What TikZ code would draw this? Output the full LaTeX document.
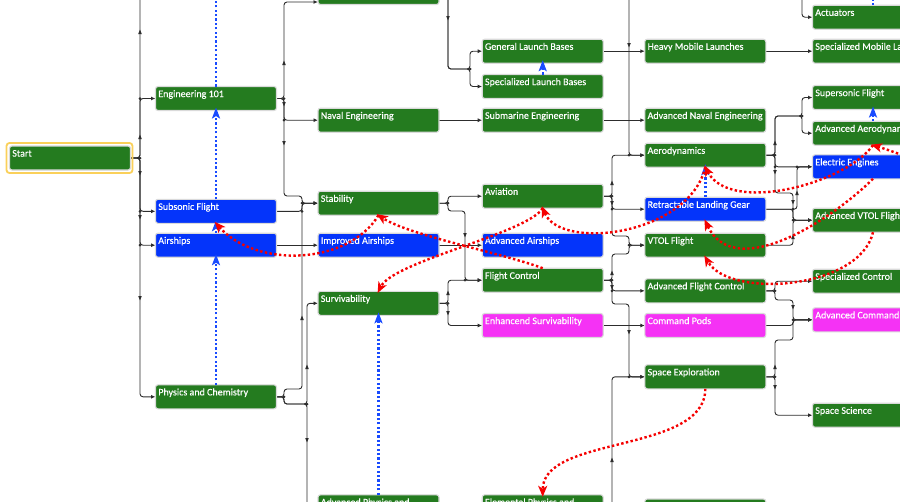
\documentclass[tikz,border=0pt]{standalone}
\usepackage{fontspec}
\setmainfont{Carlito}
\newfontfamily\techfont{Carlito}[FakeBold=0.35]
\usetikzlibrary{arrows.meta}

\definecolor{techgreen}{RGB}{36,123,31}
\definecolor{techblue}{RGB}{4,52,250}
\definecolor{techpink}{RGB}{245,50,245}
\definecolor{boxedge}{RGB}{218,218,218}
\definecolor{wirecol}{RGB}{45,45,45}
\definecolor{linkblue}{RGB}{25,75,255}
\definecolor{linkred}{RGB}{245,0,0}
\definecolor{startring}{RGB}{250,208,90}

\pgfdeclarelayer{paper}
\pgfdeclarelayer{wires}
\pgfsetlayers{paper,wires,main}

% a technology box: style, name, centre x, centre y, caption
\newcommand\techbox[5]{%
  \node[#1] (#2) at (#3,#4) {};
  \node[techcap] (#2-t) at ([xshift=2.6pt,yshift=-10.6pt]#2.north west) {#5};}

\begin{document}
\begin{tikzpicture}[x=1pt,y=-1pt,
  box/.style={rectangle,rounded corners=2.5pt,draw=boxedge,line width=1.1pt,
    minimum width=121pt,minimum height=24pt,inner sep=0pt,outer sep=0pt},
  gbox/.style={box,fill=techgreen},
  bbox/.style={box,fill=techblue},
  mbox/.style={box,fill=techpink},
  techcap/.style={anchor=base west,inner sep=0pt,text=white,
    font=\techfont\fontsize{10pt}{12pt}\selectfont},
  wire/.style={draw=wirecol,line width=0.9pt,rounded corners=3pt,
    -{Latex[length=4.5pt,width=4pt]}},
  bluelink/.style={draw=linkblue,line width=2.4pt,dash pattern=on 2.2pt off 2.2pt,
    shorten >=-3pt,-{Stealth[length=11pt,width=8pt,inset=2.5pt]}},
  redlink/.style={draw=linkred,line width=2.4pt,dash pattern=on 2.4pt off 2.4pt,
    shorten >=-2pt,-{Stealth[length=11pt,width=9pt,inset=3pt]}},
  tipup/.pic={\fill[wirecol] (0pt,2.4pt) -- (-1.8pt,-2pt) -- (1.8pt,-2pt) -- cycle;},
  tipdn/.pic={\fill[wirecol] (0pt,-2.4pt) -- (-1.8pt,2pt) -- (1.8pt,2pt) -- cycle;}
]
\useasboundingbox (0,0) rectangle (900,501);
\begin{pgfonlayer}{paper}
\fill[white] (0,0) rectangle (900,501);
\end{pgfonlayer}
\clip (0,0) rectangle (900,501);

% loose ends of wires and links that leave the sheet
\coordinate (up1) at (140,-30);
\coordinate (up2) at (216,-30);
\coordinate (up5) at (629,-30);
\coordinate (up6) at (802,-30);
\coordinate (up7) at (873,-30);
\coordinate (farright) at (1036,145);

% ---------- boxes ----------
\techbox{gbox}{start}{70}{158}{Start}
\draw[startring,line width=1.8pt,rounded corners=3pt]
  ([shift={(-3pt,3pt)}]start.north west) rectangle ([shift={(2pt,-3pt)}]start.south east);

\techbox{gbox}{eng}{216}{98.5}{Engineering 101}
\techbox{bbox}{sub}{216}{211.3}{Subsonic Flight}
\techbox{bbox}{air}{216}{245.2}{Airships}
\techbox{gbox}{phys}{216}{396.8}{Physics and Chemistry}

\techbox{gbox}{top3}{378.5}{-7.5}{}
\techbox{gbox}{naval}{378.5}{120.2}{Naval Engineering}
\techbox{gbox}{stab}{378.5}{203.2}{Stability}
\techbox{bbox}{imp}{378.5}{245.2}{Improved Airships}
\techbox{gbox}{surv}{378.5}{303.3}{Survivability}
\techbox{gbox}{aphys}{378.5}{506.8}{Advanced Physics and}

\techbox{gbox}{genl}{542.7}{51.2}{General Launch Bases}
\techbox{gbox}{specl}{542.7}{86.5}{Specialized Launch Bases}
\techbox{gbox}{subm}{542.7}{120.2}{Submarine Engineering}
\techbox{gbox}{avi}{542.7}{196.2}{Aviation}
\techbox{bbox}{aair}{542.7}{245.2}{Advanced Airships}
\techbox{gbox}{fctl}{542.7}{280.2}{Flight Control}
\techbox{mbox}{enh}{542.7}{325.5}{Enhancend Survivability}
\techbox{gbox}{ephys}{542.7}{506.8}{Elemental Physics and}

\techbox{gbox}{heavy}{705.3}{51.2}{Heavy Mobile Launches}
\techbox{gbox}{anav}{705.3}{120.2}{Advanced Naval Engineering}
\techbox{gbox}{aero}{705.3}{155.2}{Aerodynamics}
\techbox{bbox}{retr}{705.3}{209.2}{Retractable Landing Gear}
\techbox{gbox}{vtol}{705.3}{245.2}{VTOL Flight}
\techbox{gbox}{afc}{705.3}{290.8}{Advanced Flight Control}
\techbox{mbox}{cmd}{705.3}{325.5}{Command Pods}
\techbox{gbox}{spx}{705.3}{376.8}{Space Exploration}
\techbox{gbox}{bot5}{705.3}{511}{}

\techbox{gbox}{act}{873}{17.2}{Actuators}
\techbox{gbox}{smob}{873}{51.2}{Specialized Mobile La}
\techbox{gbox}{sup}{873}{97.5}{Supersonic Flight}
\techbox{gbox}{aaero}{873}{133.2}{Advanced Aerodynam}
\techbox{bbox}{elec}{873}{166.8}{Electric Engines}
\techbox{gbox}{avtol}{873}{220.2}{Advanced VTOL Fligh}
\techbox{gbox}{sctl}{873}{281.2}{Specialized Control}
\techbox{mbox}{acmd}{873}{319.8}{Advanced Command}
\techbox{gbox}{ssci}{873}{415.2}{Space Science}

% ---------- prerequisite wires ----------
\begin{pgfonlayer}{wires}
\clip (0,0) rectangle (900,501);
\draw[wire] (start.east) -- (140,158) -- (140,98.5) -- (eng.west);
\draw[wire] (start.east) -- (140,158) -- (140,211.3) -- (sub.west);
\draw[wire] (start.east) -- (140,158) -- (140,245.2) -- (air.west);
\draw[wire] (start.east) -- (140,158) -- (140,396.8) -- (phys.west);
\draw[wire] (start.east) -- (140,158) -- (up1);

\draw[wire] (eng.east) -- (284,98.5) -- (284,2) -- ([yshift=-9.5pt]top3.west);
\draw[wire] (eng.east) -- (284,98.5) -- (284,120.2) -- (naval.west);
\draw[wire] (eng.east) -- (284,98.5) -- (284,196) -- (302,196) -- (302,203.2) -- (stab.west);
\draw[wire] (sub.east) -- (302,211.3) -- (302,203.2) -- (stab.west);
\draw[wire] (air.east) -- (imp.west);
\draw[wire] (phys.east) -- (284,396.8) -- (284,389) -- (302,389) -- (302,203.2) -- (stab.west);
\draw[wire] (phys.east) -- (284,396.8) -- (284,404) -- (307,404) -- (307,303.3) -- (surv.west);
\draw[wire] (phys.east) -- (284,396.8) -- (284,404) -- (307,404) -- (307,506.8) -- (aphys.west);

\draw[wire] (top3.east) -- (448,-7.5) -- (448,69) -- (470,69) -- (470,51.2) -- (genl.west);
\draw[wire] (top3.east) -- (448,-7.5) -- (448,69) -- (470,69) -- (470,86.5) -- (specl.west);
\draw[wire] (naval.east) -- (subm.west);
\draw[wire] (stab.east) -- (448,203.2) -- (448,196.2) -- (avi.west);
\draw[wire] (stab.east) -- (448,203.2) -- (448,211) -- (465,211) -- (465,280.2) -- (fctl.west);
\draw[wire] (imp.east) -- (aair.west);
\draw[wire] (surv.east) -- (448,303.3) -- (448,280.2) -- (fctl.west);
\draw[wire] (surv.east) -- (448,303.3) -- (448,325.5) -- (enh.west);

\draw[wire] (up5) -- (629,155.2) -- (aero.west);
\draw[wire] (genl.east) -- (heavy.west);
\draw[wire] (subm.east) -- (anav.west);
\draw[wire] (avi.east) -- (612,196.2) -- (612,155.2) -- (aero.west);
\draw[wire] (avi.east) -- (612,196.2) -- (612,209.2) -- (retr.west);
\draw[wire] (avi.east) -- (612,196.2) -- (612,236) -- (629,236) -- (629,245.2) -- (vtol.west);
\draw[wire] (fctl.east) -- (612,280.2) -- (612,254) -- (629,254) -- (629,245.2) -- (vtol.west);
\draw[wire] (fctl.east) -- (612,280.2) -- (612,290.8) -- (afc.west);
\draw[wire] (fctl.east) -- (612,280.2) -- (612,304) -- (629,304) -- (629,376.8) -- (spx.west);
\draw[wire] (enh.east) -- (cmd.west);
\draw[wire] (ephys.east) -- (612,506.8) -- (612,376.8) -- (spx.west);

\draw[wire] (up6) -- (802,17.2) -- (act.west);
\draw[wire] (heavy.east) -- (smob.west);
\draw[wire] (aero.east) -- (775,155.2) -- (775,116) -- (802,116) -- (802,97.5) -- (sup.west);
\draw[wire] (aero.east) -- (775,155.2) -- (775,116) -- (802,116) -- (802,133.2) -- (aaero.west);
\draw[wire] (aero.east) -- (775,155.2) -- (775,166.8) -- (elec.west);
\draw[wire] (aero.east) -- (775,155.2) -- (775,193) -- (793,193) -- (793,220.2) -- (avtol.west);
\draw[wire] (retr.east) -- (797,209.2) -- (797,166.8) -- (elec.west);
\draw[wire] (retr.east) -- (793,209.2) -- (793,220.2) -- (avtol.west);
\draw[wire] (vtol.east) -- (793,245.2) -- (793,220.2) -- (avtol.west);
\draw[wire] (afc.east) -- (775,290.8) -- (775,281.2) -- (sctl.west);
\draw[wire] (afc.east) -- (775,290.8) -- (775,300) -- (793,300) -- (793,319.8) -- (acmd.west);
\draw[wire] (cmd.east) -- (793,325.5) -- (793,319.8) -- (acmd.west);
\draw[wire] (spx.east) -- (775,376.8) -- (775,340) -- (793,340) -- (793,319.8) -- (acmd.west);
\draw[wire] (spx.east) -- (775,376.8) -- (775,415.2) -- (ssci.west);

% junction dots
\foreach \x/\y in {140/158,140/98.5,140/211.3,140/245.2,284/98.5,284/120.2,
    302/203.2,302/211.3,284/396.8,307/404,470/69,448/203.2,465/280.2,448/303.3,
    612/196.2,612/209.2,629/155.2,629/245.2,612/280.2,612/290.8,629/376.8,
    775/155.2,802/116,775/166.8,797/166.8,793/209.2,793/220.2,775/290.8,
    793/319.8,775/376.8}
  \fill[wirecol] (\x,\y) circle (1.5pt);
% direction marks along the long runs
\foreach \x/\y in {140/32,140/137,284/63,302/318,307/367,448/293,612/183,
    612/273,612/460,775/143,775/367,793/237,797/193}
  \pic at (\x,\y) {tipup};
\foreach \x/\y in {140/173,140/217,140/298,284/104,284/143,307/440,448/18,
    448/313,465/235,612/203,612/287,629/45,629/332,775/172,775/387,793/202,793/307}
  \pic at (\x,\y) {tipdn};
\end{pgfonlayer}

% ---------- upgrade links ----------
\draw[bluelink] (eng.north) -- (up2);
\draw[bluelink] (sub.north) -- (eng.south);
\draw[bluelink] (air.north) -- (sub.south);
\draw[bluelink] (phys.north) -- (air.south);
\draw[bluelink] (aphys.north) -- (surv.south);
\draw[bluelink] (specl.north) -- (genl.south);
\draw[bluelink] (retr.north) -- (aero.south);
\draw[bluelink] (aaero.north) -- (sup.south);
\draw[bluelink] (act.north) -- (up7);

% ---------- related-technology links ----------
\draw[redlink] (stab.south) .. controls +(-30,50) and +(40,45) .. (sub.south);
\draw[redlink] (fctl.north) .. controls +(-40,-15) and +(30,20) .. (stab.south);
\draw[redlink] (avi.south) .. controls +(-15,25) and +(15,-30) .. (surv.north);
\draw[redlink] (aero.south) .. controls +(-16,68) and +(18,43) .. (avi.south);
\draw[redlink] (aaero.south) .. controls +(-28,39) and +(24.5,47) .. (aero.south);
\draw[redlink] (farright) .. controls +(-20,60) and +(40,12) .. (aaero.south);
\draw[redlink] (elec.south) .. controls +(-40,40) and +(30,62) .. (retr.south);
\draw[redlink] (avtol.south) .. controls +(-13,57) and +(24.5,42) .. (vtol.south);
\draw[redlink] (spx.south) .. controls +(0,65) and +(0,-60) .. (ephys.north);
\end{tikzpicture}
\end{document}
